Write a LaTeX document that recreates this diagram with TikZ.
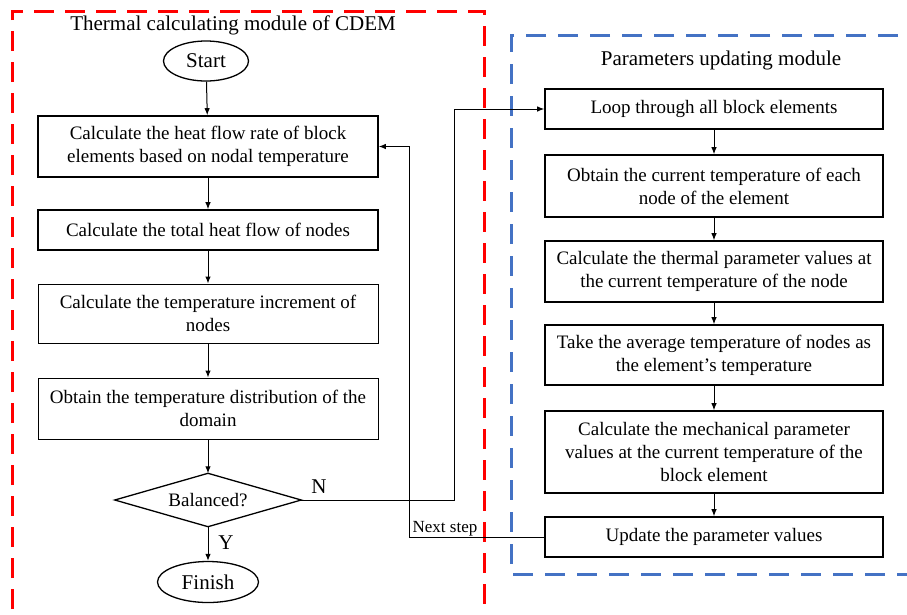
\documentclass[tikz,border=0pt]{standalone}
\usepackage{fontspec}
\setmainfont{Liberation Serif}
\usetikzlibrary{shapes.geometric,arrows.meta}
\definecolor{frameblue}{RGB}{68,114,196}
\begin{document}
\begin{tikzpicture}[x=1pt,y=-1pt,
  proc/.style={draw,line width=1.6pt,align=center,inner sep=2pt,font=\fontsize{19}{23}\selectfont},
  lbox/.style={proc,minimum width=340pt},
  rbox/.style={proc,minimum width=338pt},
  term/.style={draw,ellipse,line width=1.3pt,inner sep=0pt,font=\fontsize{21}{25}\selectfont},
  arr/.style={line width=1pt,-{Latex[length=7pt,width=5.5pt]}},
  ttl/.style={font=\fontsize{21}{25}\selectfont}]
\useasboundingbox (0,0) rectangle (907,614);
\fill[white] (0,0) rectangle (907,614);
% frames
\draw[red,line width=3pt,dash pattern=on 20pt off 11pt] (12,640) -- (12,11) -- (484,11) -- (484,640);
\draw[frameblue,line width=3pt,dash pattern=on 20pt off 12pt] (930,35) -- (511,35) -- (511,574) -- (930,574);
% titles
\node[ttl] (t1) at (233,25) {Thermal calculating module of CDEM};
\node[ttl] (t2) at (721,60) {Parameters updating module};
% left column
\node[term,minimum width=85pt,minimum height=40pt] (start) at (206,61) {Start};
\node[lbox,minimum height=61pt] (b1) at (208,146.5) {Calculate the heat flow rate of block\\elements based on nodal temperature};
\node[lbox,minimum height=40pt] (b2) at (208,230) {Calculate the total heat flow of nodes};
\node[lbox,minimum height=59pt,line width=1pt] (b3) at (208,313.5) {Calculate the temperature increment of\\nodes};
\node[lbox,minimum height=61pt,line width=1pt] (b4) at (208,408.5) {Obtain the temperature distribution of the\\domain};
\node[minimum width=186pt,minimum height=53pt,inner sep=0pt,font=\fontsize{19}{23}\selectfont] (dia) at (208,500) {Balanced?};
\draw[line width=1.3pt,line join=miter] (dia.north) -- (dia.east) -- (dia.south) -- (dia.west) -- cycle;
\node[term,minimum width=101pt,minimum height=41pt] (fin) at (208,582) {Finish};
% right column
\node[rbox,minimum height=40pt] (r1) at (714,109) {Loop through all block elements};
\node[rbox,minimum height=62pt] (r2) at (714,186) {Obtain the current temperature of each\\node of the element};
\node[rbox,minimum height=61pt] (r3) at (714,271.5) {Calculate the thermal parameter values at\\the current temperature of the node};
\node[rbox,minimum height=60pt] (r4) at (714,355) {Take the average temperature of nodes as\\the element's temperature};
\node[rbox,minimum height=82pt] (r5) at (714,452) {Calculate the mechanical parameter\\values at the current temperature of the\\block element};
\node[rbox,minimum height=40pt] (r6) at (714,537) {Update the parameter values};
% arrows left
\draw[arr] (start) -- (b1);
\draw[arr] (b1) -- (b2);
\draw[arr] (b2) -- (b3);
\draw[arr] (b3) -- (b4);
\draw[arr] (b4) -- (dia.north);
\draw[arr] (dia.south) -- (fin);
% arrows right
\draw[arr] (r1) -- (r2);
\draw[arr] (r2) -- (r3);
\draw[arr] (r3) -- (r4);
\draw[arr] (r4) -- (r5);
\draw[arr] (r5) -- (r6);
% loop connectors
\coordinate (nx) at (454,0);
\coordinate (sx) at (409,0);
\draw[arr] (dia.east) -- (dia.east -| nx) |- (r1.west);
\draw[arr] (r6.west) -- (r6.west -| sx) |- (b1.east);
% labels
\node[font=\fontsize{21}{25}\selectfont] (nl) at (319,487) {N};
\node[font=\fontsize{21}{25}\selectfont] (yl) at (226,543) {Y};
\node[font=\fontsize{17}{20}\selectfont] (ns) at (445,529) {Next step};
\end{tikzpicture}
\end{document}
